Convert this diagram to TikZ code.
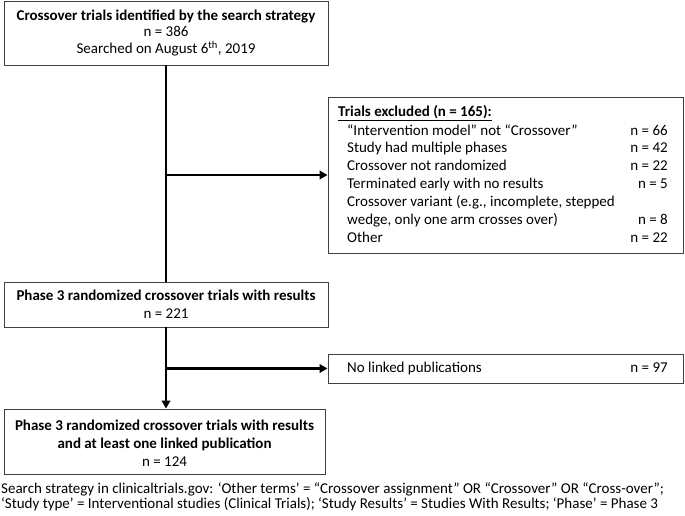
\documentclass[tikz,border=0pt]{standalone}
\usepackage{fontspec}
\setmainfont{Carlito}
\usetikzlibrary{arrows.meta,positioning}
\begin{document}
\begin{tikzpicture}[x=1pt,y=-1pt,
  box/.style={draw=black!75,line width=0.9pt,fill=white,inner sep=0pt},
  txt/.style={inner sep=0pt,text height=10.5pt,text depth=3.5pt,font=\fontsize{15}{18}\selectfont},
  bold/.style={font=\fontsize{15}{18}\selectfont\bfseries},
  conn/.style={line width=2.6pt},
  arr/.style={line width=2.6pt,-{Triangle[length=8pt,width=8.5pt]}}]
\useasboundingbox (0,0) rectangle (685,516);
% boxes
\node[box,minimum width=324pt,minimum height=64pt] (b1) at (166,33) {};
\node[box,minimum width=355pt,minimum height=156pt] (b2) at (505.5,175) {};
\node[box,minimum width=324pt,minimum height=45pt] (b3) at (166,304.5) {};
\node[box,minimum width=355pt,minimum height=29pt] (b4) at (505.5,368.5) {};
\node[box,minimum width=321pt,minimum height=65pt] (b5) at (164.5,441.5) {};
% box 1 text
\node[txt,bold] (t1a) at (166,17) {Crossover trials identified by the search strategy};
\node[txt] (t1b) at (166,33) {n = 386};
\node[txt] (t1c) at (166,50) {Searched on August 6\textsuperscript{th}, 2019};
% box 2 text
\node[txt,bold,anchor=west] (h2) at (338,113) {\underline{Trials excluded (n = 165):}};
\node[txt,anchor=west] (e1) at (347,132) {“Intervention model” not “Crossover”};
\node[txt,anchor=west] (e2) at (347,149.5) {Study had multiple phases};
\node[txt,anchor=west] (e3) at (347,167) {Crossover not randomized};
\node[txt,anchor=west] (e4) at (347,185) {Terminated early with no results};
\node[txt,anchor=west] (e5) at (347,203) {Crossover variant (e.g., incomplete, stepped};
\node[txt,anchor=west] (e6) at (347,221) {wedge, only one arm crosses over)};
\node[txt,anchor=west] (e7) at (347,239) {Other};
\node[txt,anchor=east] (n1) at (668,132) {n = 66};
\node[txt,anchor=east] (n2) at (668,149.5) {n = 42};
\node[txt,anchor=east] (n3) at (668,167) {n = 22};
\node[txt,anchor=east] (n4) at (668,185) {n = 5};
\node[txt,anchor=east] (n6) at (668,221) {n = 8};
\node[txt,anchor=east] (n7) at (668,239) {n = 22};
% box 3 text
\node[txt,bold] (t3a) at (166,297) {Phase 3 randomized crossover trials with results};
\node[txt] (t3b) at (166,315) {n = 221};
% box 4 text
\node[txt,anchor=west] (t4a) at (347,369) {No linked publications};
\node[txt,anchor=east] (t4b) at (668,369) {n = 97};
% box 5 text
\node[txt,bold] (t5a) at (164.5,427) {Phase 3 randomized crossover trials with results};
\node[txt,bold] (t5b) at (164.5,445) {and at least one linked publication};
\node[txt] (t5c) at (164.5,463) {n = 124};
% footnote
\node[txt,anchor=west] (f1) at (1,490) {Search strategy in clinicaltrials.gov: ‘Other terms’ = “Crossover assignment” OR “Crossover” OR “Cross-over”;};
\node[txt,anchor=west] (f2) at (1,505) {‘Study type’ = Interventional studies (Clinical Trials); ‘Study Results’ = Studies With Results; ‘Phase’ = Phase 3};
% connectors
\coordinate (j1) at (b1.south |- b2.west);
\coordinate (j2) at (b3.south |- b4.west);
\draw[conn] (b1.south) -- (b3.north);
\draw[arr] (j1) -- (b2.west);
\draw[arr] (b3.south) -- (b3.south |- b5.north);
\draw[arr] (j2) -- (b4.west);
\end{tikzpicture}
\end{document}
